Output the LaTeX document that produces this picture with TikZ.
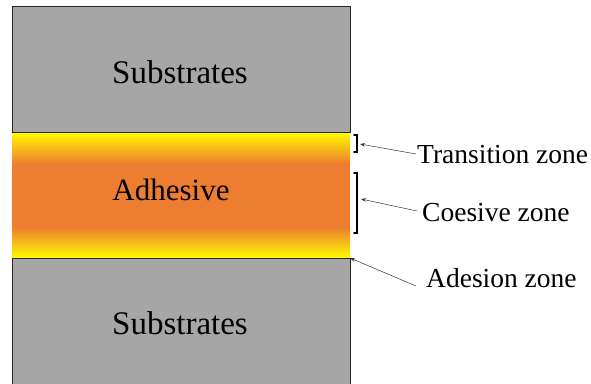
\documentclass[tikz,border=0pt]{standalone}
\usepackage{fontspec}
\setmainfont{Liberation Serif}
\usetikzlibrary{arrows.meta}
\definecolor{subgray}{RGB}{166,166,166}
\definecolor{adorange}{RGB}{237,125,49}
\definecolor{adyellow}{RGB}{255,250,0}
\begin{document}
\begin{tikzpicture}[x=1pt,y=-1pt,
  subtxt/.style={font=\fontsize{33}{36}\selectfont, inner sep=0pt},
  adhtxt/.style={font=\fontsize{31}{34}\selectfont, inner sep=0pt},
  sidetxt/.style={font=\fontsize{27.5}{30}\selectfont, inner sep=0pt, anchor=west},
  pointer/.style={draw=black!80, line width=0.5pt, -{Stealth[length=5pt,width=3.5pt]}},
  bracket/.style={draw=black, line width=1.6pt, line cap=round}
]
\useasboundingbox (0,0) rectangle (591,383);
\clip (0,0) rectangle (591,383);
% substrates
\draw[fill=subgray, draw=black!85, line width=1pt] (12,6) rectangle (350,132);
\draw[fill=subgray, draw=black!85, line width=1pt] (12,258) rectangle (350,392);
% adhesive with gradient
\shade[top color=adyellow, bottom color=adorange] (12,132.5) rectangle (350,164);
\fill[adorange] (12,163.5) rectangle (350,227.5);
\shade[top color=adorange, bottom color=adyellow] (12,227) rectangle (350,257.5);
\draw[black!85, line width=1pt] (12,132) -- (350,132);
\draw[black!85, line width=1pt] (12,258) -- (350,258);
% texts
\node[subtxt] (sub1) at (180,72) {Substrates};
\node[adhtxt] (adh) at (171,190) {Adhesive};
\node[subtxt] (sub2) at (180,323) {Substrates};
% brackets
\draw[bracket] (354,135) -- (357,135) -- (357,152) -- (354,152);
\draw[bracket] (354,173) -- (357,173) -- (357,233) -- (354,233);
\coordinate (tb) at (360,144);
\coordinate (cb) at (361,199);
\coordinate (ab) at (350,258);
% side labels
\node[sidetxt] (tz) at (417,155) {Transition zone};
\node[sidetxt] (cz) at (422,213) {Coesive zone};
\node[sidetxt] (az) at (426,278) {Adesion zone};
\draw[pointer] (tz.west) ++(-1,-1) -- (tb);
\draw[pointer] (cz.west) ++(-5,-2) -- (cb);
\draw[pointer] (az.west) ++(-10,8) -- (ab);
\end{tikzpicture}
\end{document}
